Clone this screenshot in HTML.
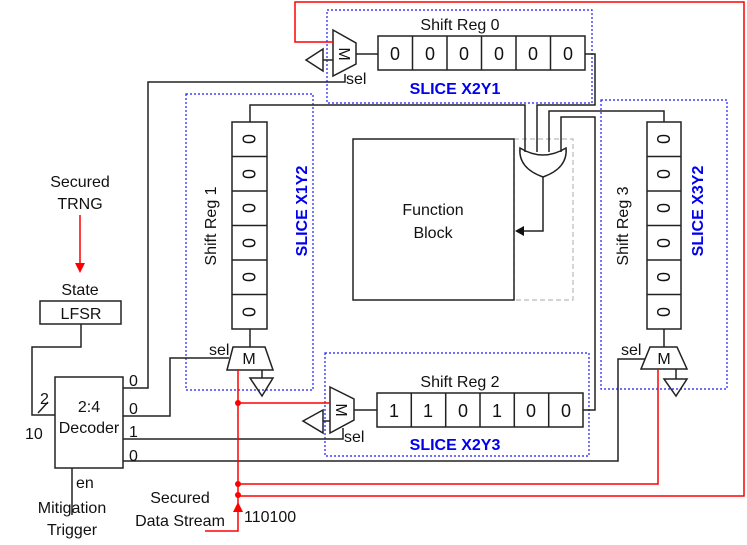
<!DOCTYPE html>
<html><head><meta charset="utf-8"><style>
html,body{margin:0;padding:0;background:#fff}
svg{display:block}
text{font-family:"Liberation Sans",Arial,sans-serif;fill:#111}
.b{font-weight:bold;fill:#0000ee;font-size:16px}
.d{font-size:18px}
</style></head><body>
<svg width="747" height="545" viewBox="0 0 747 545" xmlns="http://www.w3.org/2000/svg">
<g fill="none" stroke="#1a1aff" stroke-width="1.2" stroke-dasharray="2,2">
<rect x="327" y="10" width="265" height="93"/>
<rect x="186" y="94" width="127" height="296"/>
<rect x="601" y="100" width="126" height="289"/>
<rect x="325" y="353" width="264" height="103"/>
</g>
<rect x="514" y="139" width="59" height="161" fill="none" stroke="#bbb" stroke-width="1.2" stroke-dasharray="5,3"/>
<g fill="none" stroke="#222" stroke-width="1.5">
<rect x="353" y="139" width="161" height="161"/>
<rect x="378" y="36" width="207" height="34"/>
<path d="M412.5 36V70M447 36V70M481.5 36V70M516 36V70M550.5 36V70"/>
<rect x="377" y="393" width="206" height="34"/>
<path d="M411.3 393V427M445.7 393V427M480 393V427M514.3 393V427M548.7 393V427"/>
<rect x="232" y="122" width="35" height="207"/>
<path d="M232 156.5H267M232 191H267M232 225.5H267M232 260H267M232 294.5H267"/>
<rect x="647" y="122" width="34" height="207"/>
<path d="M647 156.5H681M647 191H681M647 225.5H681M647 260H681M647 294.5H681"/>
<path d="M333 30L356 43V64L333 76Z"/>
<path d="M330 387L354 399V420L330 433Z"/>
<path d="M233 347H265L273 370H227Z"/>
<path d="M650 347H677L687 369H641Z"/>
<path d="M306 60L323 49V71Z"/>
<path d="M303 421L323 410V433Z"/>
<path d="M250 378H273L262 396Z"/>
<path d="M664 379H687L676 396Z"/>
<path d="M323 60H333M323 421H330M262 370V378M676 369V379M356 54H378M354 410H377"/>
<path d="M520 148Q543 162 566 148Q568 168 543 177Q518 168 520 148Z"/>
<path d="M585 54H595V105H537V152"/>
<path d="M250 122V105H525V152"/>
<path d="M664 122V111H549V152"/>
<path d="M583 410H595V117H561V152"/>
<path d="M543 177V231H522"/>
<path d="M250 329V347M664 329V347"/>
<path d="M345 74V82H148V388H123"/>
<path d="M123 416H170V358H229"/>
<path d="M123 439H343V428"/>
<path d="M123 461H618V359H645"/>
<path d="M55 415H32V347H81V324"/>
<path d="M72 468V515"/>
<path d="M38 413L48 402"/>
<rect x="40" y="301" width="81" height="23"/>
<rect x="55" y="377" width="68" height="91"/>
</g>
<path d="M515 231L524 226V236Z" fill="#111"/>
<g fill="none" stroke="#f00" stroke-width="1.5">
<path d="M333 42H295V2H744V496H238"/>
<path d="M658 369V484H238"/>
<path d="M238 370V531H205"/>
<path d="M238 403H330"/>
<path d="M80 215V266"/>
</g>
<path d="M80 273L75 263H85Z" fill="#f00"/>
<path d="M238 502L233 512H243Z" fill="#f00"/>
<g fill="#f00"><circle cx="238" cy="403" r="3"/><circle cx="238" cy="484" r="3"/><circle cx="238" cy="495" r="3"/></g>
<g font-size="16" text-anchor="middle">
<text x="460" y="30">Shift Reg 0</text>
<text x="460" y="387">Shift Reg 2</text>
<g class="d"><text x="395" y="60">0</text><text x="430" y="60">0</text><text x="464" y="60">0</text><text x="499" y="60">0</text><text x="533" y="60">0</text><text x="568" y="60">0</text></g>
<g class="d"><text x="394" y="417">1</text><text x="428" y="417">1</text><text x="463" y="417">0</text><text x="497" y="417">1</text><text x="531" y="417">0</text><text x="566" y="417">0</text></g>
<g class="d" transform="translate(249.5,0)">
<text transform="translate(6,139) rotate(-90)">0</text><text transform="translate(6,174) rotate(-90)">0</text><text transform="translate(6,208) rotate(-90)">0</text><text transform="translate(6,243) rotate(-90)">0</text><text transform="translate(6,277) rotate(-90)">0</text><text transform="translate(6,312) rotate(-90)">0</text></g>
<g class="d" transform="translate(664,0)">
<text transform="translate(6,139) rotate(-90)">0</text><text transform="translate(6,174) rotate(-90)">0</text><text transform="translate(6,208) rotate(-90)">0</text><text transform="translate(6,243) rotate(-90)">0</text><text transform="translate(6,277) rotate(-90)">0</text><text transform="translate(6,312) rotate(-90)">0</text></g>
<text transform="translate(216,226) rotate(-90)">Shift Reg 1</text>
<text transform="translate(628,226) rotate(-90)">Shift Reg 3</text>
<text x="433" y="215">Function</text><text x="433" y="238">Block</text>
<text x="80" y="187">Secured</text><text x="80" y="209">TRNG</text>
<text x="80" y="295">State</text>
<text x="81" y="319">LFSR</text>
<text x="89" y="412">2:4</text><text x="89" y="433">Decoder</text>
<text x="72" y="513">Mitigation</text><text x="72" y="535">Trigger</text>
<text x="180" y="503">Secured</text><text x="180" y="526">Data Stream</text>
<text x="249" y="364">M</text>
<text x="664" y="364">M</text>
<text transform="translate(339,54) rotate(90)">M</text>
<text transform="translate(336,410) rotate(90)">M</text>
</g>
<g font-size="16">
<text x="346" y="84">sel</text>
<text x="344" y="442">sel</text>
<text x="209" y="355">sel</text>
<text x="621" y="355">sel</text>
<text x="129" y="386">0</text><text x="129" y="414">0</text><text x="129" y="437">1</text><text x="129" y="461">0</text>
<text x="40" y="404">2</text><text x="25" y="439">10</text>
<text x="76" y="488">en</text>
<text x="244" y="522">110100</text>
</g>
<text class="b" x="455" y="94" text-anchor="middle">SLICE X2Y1</text>
<text class="b" x="455" y="450" text-anchor="middle">SLICE X2Y3</text>
<text class="b" text-anchor="middle" transform="translate(307,211) rotate(-90)">SLICE X1Y2</text>
<text class="b" text-anchor="middle" transform="translate(703,211) rotate(-90)">SLICE X3Y2</text>
</svg>
</body></html>
